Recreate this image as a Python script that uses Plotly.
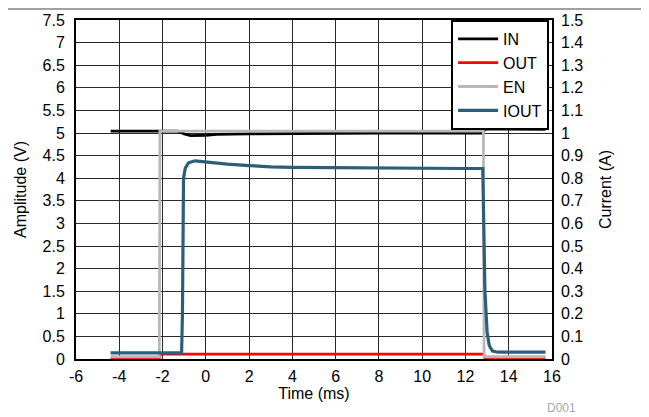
import plotly.graph_objects as go

# ---- data ----
in_t = [-4.4, -1.3, -1.0, -0.7, 0.0, 0.5, 2, 4, 6, 8, 10, 12, 12.8, 12.9, 13.2, 15.7]
in_v = [5.04, 5.04, 4.98, 4.94, 4.95, 4.97, 4.98, 4.99, 5.00, 5.00, 5.00, 5.00, 5.00, 5.08, 5.09, 5.08]

out_t = [-4.4, -2.15, -2.1, 12.85, 12.9, 15.7]
out_v = [0.02, 0.02, 0.11, 0.11, 0.02, 0.02]

en_t = [-4.4, -2.15, -2.12, 12.83, 12.86, 15.7]
en_v = [0.05, 0.05, 5.04, 5.04, 0.05, 0.05]

iout_t = [-4.4, -1.12, -1.08, -1.06, -1.03, -0.95, -0.8, -0.5, 0, 1, 2, 3, 4, 6, 8, 10, 12,
          12.8, 12.85, 12.9, 13.0, 13.1, 13.25, 13.5, 15.7]
iout_a = [0.027, 0.027, 0.2, 0.6, 0.8, 0.845, 0.868, 0.877, 0.872, 0.862, 0.856, 0.85, 0.848,
          0.846, 0.845, 0.844, 0.843, 0.843, 0.6, 0.3, 0.12, 0.06, 0.035, 0.03, 0.03]

x_tickvals = [-6, -4, -2, 0, 2, 4, 6, 8, 10, 12, 14, 16]
x_ticktext = ["-6", "-4", "-2", "0", "2", "4", "6", "8", "10", "12", "14", "16"]

x_title = "Time (ms)"
y_title = "Amplitude (V)"
y2_title = "Current (A)"
code_label = "D001"

FONT = "Liberation Sans, Arial, sans-serif"

fig = go.Figure()
fig.add_trace(go.Scatter(x=in_t, y=in_v, name="IN", mode="lines",
                         line=dict(color="black", width=2.8)))
fig.add_trace(go.Scatter(x=out_t, y=out_v, name="OUT", mode="lines",
                         line=dict(color="#ff0000", width=2.8)))
fig.add_trace(go.Scatter(x=en_t, y=en_v, name="EN", mode="lines",
                         line=dict(color="#b8b8b8", width=2.8)))
fig.add_trace(go.Scatter(x=iout_t, y=iout_a, name="IOUT", mode="lines", yaxis="y2",
                         line=dict(color="#2b5f78", width=3.2)))

grid = "#2a2a2a"
fig.update_layout(
    width=649, height=417,
    margin=dict(l=68, r=105, t=12, b=66),
    paper_bgcolor="white", plot_bgcolor="white",
    font=dict(family=FONT, size=16, color="black"),
    showlegend=True,
    legend=dict(x=0.788, y=1, xanchor="left", yanchor="top",
                bordercolor="black", borderwidth=2, bgcolor="white",
                font=dict(size=16), tracegroupgap=0, itemwidth=40,
                entrywidth=74),
    xaxis=dict(range=[-6, 16], tickvals=x_tickvals, ticktext=x_ticktext,
               showgrid=True, gridcolor=grid, gridwidth=1, automargin=False,
               zeroline=False, showline=True, linecolor="black", linewidth=2, mirror=True,
               ticks="", ticklabelstandoff=2,
               title=dict(text=x_title, standoff=3, font=dict(size=16))),
    yaxis=dict(range=[0, 7.5], dtick=0.5, tick0=0, showgrid=True, gridcolor=grid, gridwidth=1,
               zeroline=False, showline=True, linecolor="black", linewidth=2, mirror=True,
               ticks="", ticklabelstandoff=6, automargin=False,
               title=dict(text=y_title, standoff=12, font=dict(size=16))),
    yaxis2=dict(range=[0, 1.5], dtick=0.1, tick0=0, overlaying="y", side="right",
                showgrid=False, zeroline=False, showline=False, ticks="", automargin=False,
                tickformat=".1~f", ticklabelstandoff=8,
                title=dict(text=y2_title, standoff=17, font=dict(size=16))),
    shapes=[
        dict(type="line", xref="paper", yref="paper", x0=-0.17, x1=1.1933, y0=1.0324, y1=1.0324,
             line=dict(color="#808080", width=1.5)),
        dict(type="line", xref="paper", yref="paper", x0=1.1933, x1=1.1933, y0=1.0324, y1=-0.2,
             line=dict(color="#808080", width=1.5)),
    ],
    annotations=[
        dict(text=code_label, xref="paper", yref="paper", x=1.021, y=-0.1445,
             xanchor="center", yanchor="middle", showarrow=False,
             font=dict(size=12, color="#a8a8a8")),
    ],
)

fig.write_html("out.html")
